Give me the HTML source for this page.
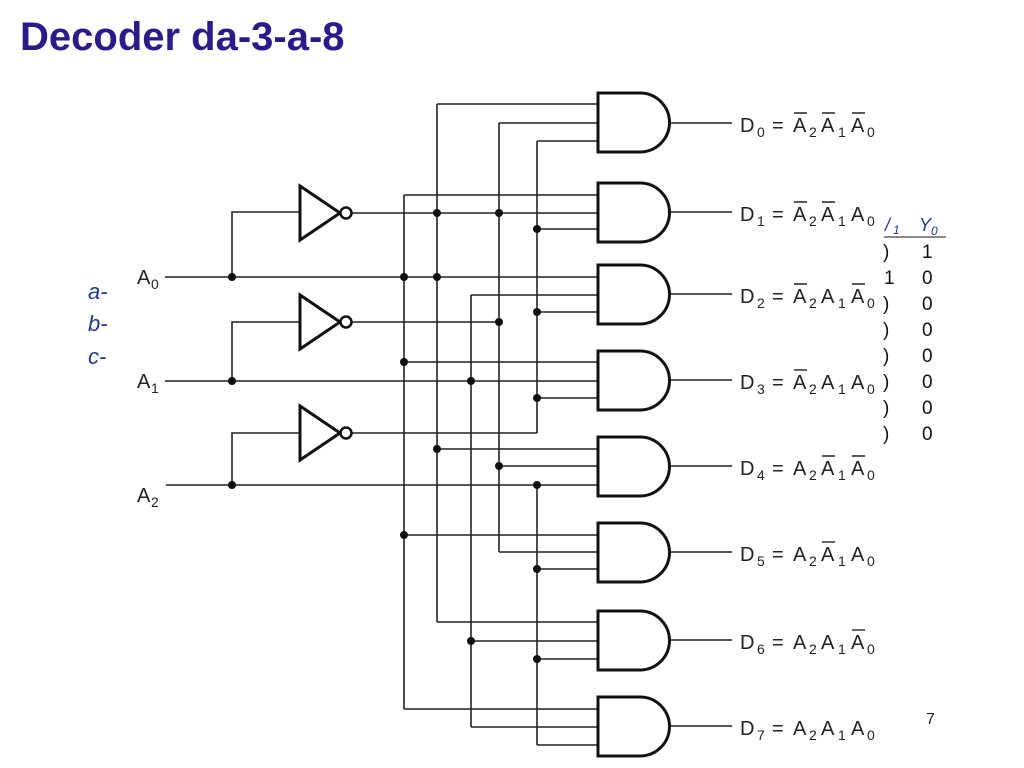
<!DOCTYPE html>
<html><head><meta charset="utf-8"><style>
body{margin:0;width:1024px;height:768px;background:#fff;overflow:hidden;position:relative;font-family:"Liberation Sans",sans-serif}
.t{position:absolute;left:20px;top:15px;font-size:40px;font-weight:bold;color:#2b1a8a}
</style></head><body>
<div class="t">Decoder da-3-a-8</div>
<svg width="1024" height="768" style="position:absolute;left:0;top:0" font-family="Liberation Sans, sans-serif">
<defs></defs>
<g stroke="#222" stroke-width="1.6" fill="none">
<path d="M404 195V709M437 104V622M471 295V727M499 123V552M537 141V433M537 484V745"/>
<path d="M165 277H598M232 277V212H300M165 381H598M232 381V322H300M166 485H598M232 485V433H300"/>
<path d="M352 213H598M352 322H499M352 433H537"/>
<path d="M437 104H598M499 123H598M537 141H598M404 195H598M537 229H598M471 295H598M537 312H598M404 362H598M537 398H598M437 449H598M499 466H598M404 535H598M499 552H598M537 569H598M437 622H598M471 641H598M537 659H598M404 709H598M471 727H598M537 745H598"/>
<path d="M670 123H732M670 212H732M670 294H732M670 380H732M670 466H732M670 552H732M670 640H732M670 726H732"/>
</g>
<g stroke="#111" stroke-width="3" fill="#fff">
<path d="M598 93H640A29.5 29.5 0 0 1 640 152H598Z"/>
<path d="M598 183H640A29.5 29.5 0 0 1 640 242H598Z"/>
<path d="M598 265H640A29.5 29.5 0 0 1 640 324H598Z"/>
<path d="M598 351H640A29.5 29.5 0 0 1 640 410H598Z"/>
<path d="M598 437H640A29.5 29.5 0 0 1 640 496H598Z"/>
<path d="M598 523H640A29.5 29.5 0 0 1 640 582H598Z"/>
<path d="M598 611H640A29.5 29.5 0 0 1 640 670H598Z"/>
<path d="M598 697H640A29.5 29.5 0 0 1 640 756H598Z"/>
<path d="M300 186V240L340 213Z M300 295V349L340 322Z M300 406V460L340 433Z"/>
<circle cx="346" cy="213" r="5.5" stroke-width="2.5"/>
<circle cx="346" cy="322" r="5.5" stroke-width="2.5"/>
<circle cx="346" cy="433" r="5.5" stroke-width="2.5"/>
</g>
<g fill="#111">
<circle cx="437" cy="213" r="4"/><circle cx="499" cy="213" r="4"/><circle cx="537" cy="229" r="4"/>
<circle cx="232" cy="277" r="4"/><circle cx="404" cy="277" r="4"/><circle cx="437" cy="277" r="4"/>
<circle cx="537" cy="312" r="4"/><circle cx="499" cy="322" r="4"/><circle cx="404" cy="362" r="4"/>
<circle cx="232" cy="381" r="4"/><circle cx="471" cy="381" r="4"/><circle cx="537" cy="398" r="4"/>
<circle cx="232" cy="485" r="4"/><circle cx="437" cy="449" r="4"/><circle cx="499" cy="466" r="4"/>
<circle cx="537" cy="485" r="4"/><circle cx="404" cy="535" r="4"/><circle cx="537" cy="569" r="4"/>
<circle cx="471" cy="641" r="4"/><circle cx="537" cy="659" r="4"/>
</g>
<g fill="#222" font-size="20">
<text x="137" y="284">A</text><text x="151" y="289" font-size="14">0</text>
<text x="137" y="388">A</text><text x="151" y="393" font-size="14">1</text>
<text x="137" y="502">A</text><text x="151" y="507" font-size="14">2</text>
</g>
<g fill="#1e3a8a" font-size="22" font-style="italic">
<text x="88" y="299">a-</text><text x="88" y="331">b-</text><text x="88" y="364">c-</text>
</g>
<g fill="#222" font-size="20">
<g transform="translate(0,132)"><text x="740">D</text><text x="757" y="5" font-size="14">0</text><text x="772">=</text><text x="793">A</text><text x="809" y="5" font-size="14">2</text><text x="821">A</text><text x="838" y="5" font-size="14">1</text><text x="851">A</text><text x="867" y="5" font-size="14">0</text></g>
<g transform="translate(0,221)"><text x="740">D</text><text x="757" y="5" font-size="14">1</text><text x="772">=</text><text x="793">A</text><text x="809" y="5" font-size="14">2</text><text x="821">A</text><text x="838" y="5" font-size="14">1</text><text x="851">A</text><text x="867" y="5" font-size="14">0</text></g>
<g transform="translate(0,303)"><text x="740">D</text><text x="757" y="5" font-size="14">2</text><text x="772">=</text><text x="793">A</text><text x="809" y="5" font-size="14">2</text><text x="821">A</text><text x="838" y="5" font-size="14">1</text><text x="851">A</text><text x="867" y="5" font-size="14">0</text></g>
<g transform="translate(0,389)"><text x="740">D</text><text x="757" y="5" font-size="14">3</text><text x="772">=</text><text x="793">A</text><text x="809" y="5" font-size="14">2</text><text x="821">A</text><text x="838" y="5" font-size="14">1</text><text x="851">A</text><text x="867" y="5" font-size="14">0</text></g>
<g transform="translate(0,475)"><text x="740">D</text><text x="757" y="5" font-size="14">4</text><text x="772">=</text><text x="793">A</text><text x="809" y="5" font-size="14">2</text><text x="821">A</text><text x="838" y="5" font-size="14">1</text><text x="851">A</text><text x="867" y="5" font-size="14">0</text></g>
<g transform="translate(0,561)"><text x="740">D</text><text x="757" y="5" font-size="14">5</text><text x="772">=</text><text x="793">A</text><text x="809" y="5" font-size="14">2</text><text x="821">A</text><text x="838" y="5" font-size="14">1</text><text x="851">A</text><text x="867" y="5" font-size="14">0</text></g>
<g transform="translate(0,649)"><text x="740">D</text><text x="757" y="5" font-size="14">6</text><text x="772">=</text><text x="793">A</text><text x="809" y="5" font-size="14">2</text><text x="821">A</text><text x="838" y="5" font-size="14">1</text><text x="851">A</text><text x="867" y="5" font-size="14">0</text></g>
<g transform="translate(0,735)"><text x="740">D</text><text x="757" y="5" font-size="14">7</text><text x="772">=</text><text x="793">A</text><text x="809" y="5" font-size="14">2</text><text x="821">A</text><text x="838" y="5" font-size="14">1</text><text x="851">A</text><text x="867" y="5" font-size="14">0</text></g>
</g>
<g stroke="#222" stroke-width="1.4">
<path d="M794 113H807M822 113H835M852 113H865"/>
<path d="M794 202H807M822 202H835"/>
<path d="M794 284H807M852 284H865"/>
<path d="M794 370H807"/>
<path d="M822 456H835M852 456H865"/>
<path d="M822 542H835"/>
<path d="M852 630H865"/>
</g>
<g fill="#1e3a8a" font-size="18" font-style="italic">
<text x="885" y="231">/</text><text x="893" y="234" font-size="12">1</text>
<text x="919" y="231">Y</text><text x="931" y="235" font-size="12">0</text>
</g>
<path d="M884 237H946" stroke="#444" stroke-width="1.2"/>
<g fill="#111" font-size="19">
<text x="883" y="258">)</text><text x="922" y="258">1</text>
<text x="884" y="284">1</text><text x="922" y="284">0</text>
<text x="883" y="310">)</text><text x="922" y="310">0</text>
<text x="883" y="336">)</text><text x="922" y="336">0</text>
<text x="883" y="362">)</text><text x="922" y="362">0</text>
<text x="883" y="388">)</text><text x="922" y="388">0</text>
<text x="883" y="414">)</text><text x="922" y="414">0</text>
<text x="883" y="440">)</text><text x="922" y="440">0</text>
</g>
<text x="926" y="724" font-size="16" fill="#222">7</text>
</svg>
</body></html>
